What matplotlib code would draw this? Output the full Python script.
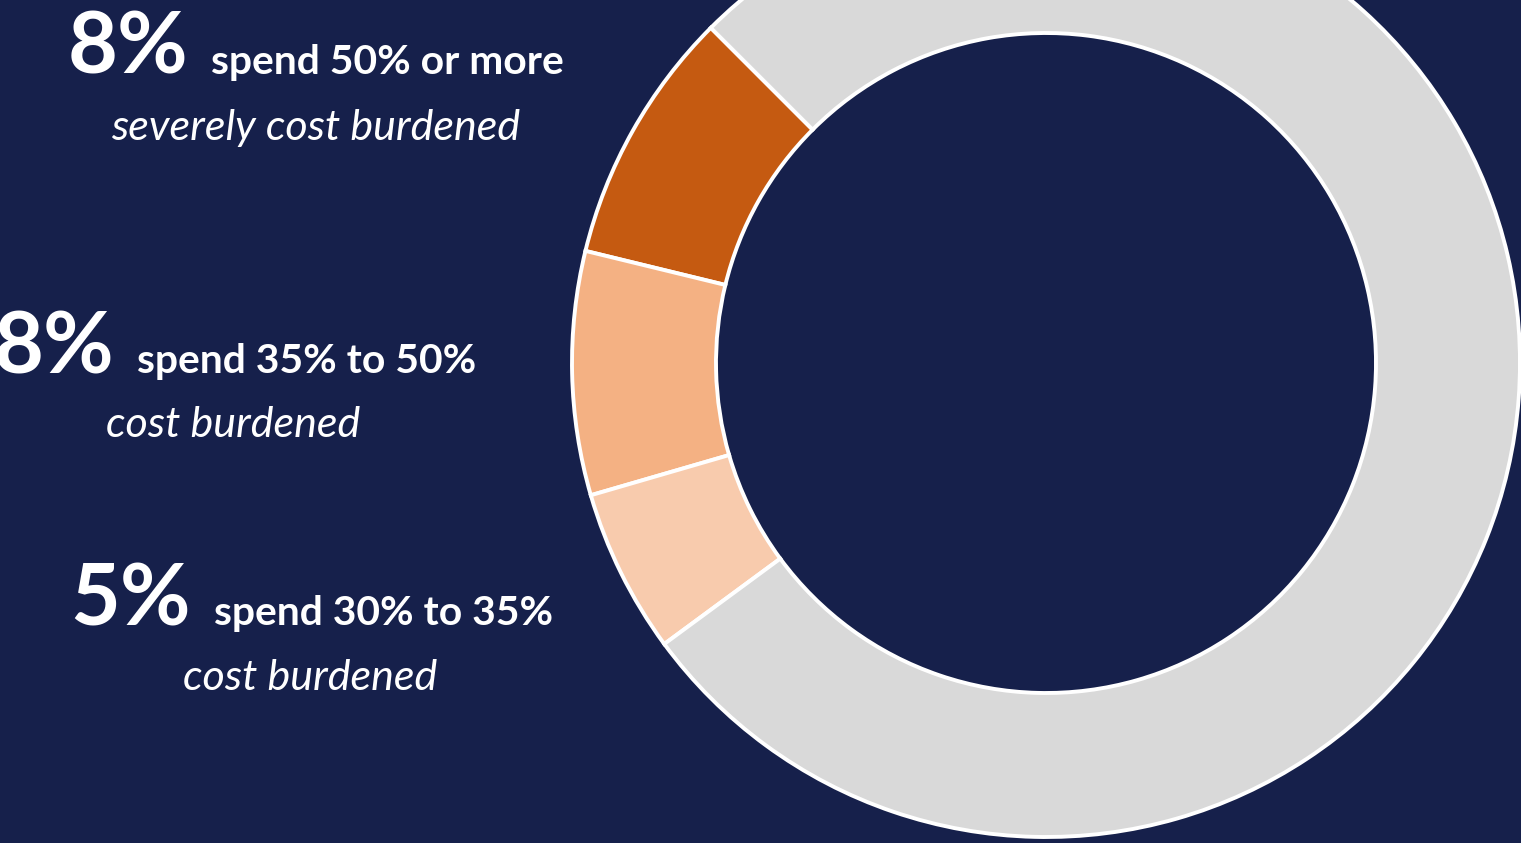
import matplotlib
matplotlib.use("Agg")
import matplotlib.pyplot as plt

W, H = 1521, 843
BG = "#16204b"

# share of households by housing cost burden
categories = ["spend 50% or more", "spend 35% to 50%", "spend 30% to 35%", "not cost burdened"]
shares = [8.7, 8.3, 5.6, 77.4]
colors = ["#c55a11", "#f4b183", "#f8cbad", "#d9d9d9"]

big_labels = ["8%", "8%", "5%"]
sub_labels = ["severely cost burdened", "cost burdened", "cost burdened"]

plt.rcParams["font.family"] = ["Lato", "DejaVu Sans"]

fig = plt.figure(figsize=(W / 100, H / 100), dpi=100, facecolor=BG)
ax = fig.add_axes([0, 0, 1, 1])
ax.set_facecolor(BG)

# donut, drawn in pixel units (y up)
ax.pie(shares, colors=colors, startangle=135, counterclock=True,
       radius=474, center=(1046, H - 363),
       wedgeprops=dict(width=144, edgecolor="white", linewidth=2.8))
ax.set_xlim(0, W)
ax.set_ylim(0, H)
ax.set_aspect("equal")
ax.axis("off")

# text blocks: split x between big number and description, baselines, centre of italic line
split_x = [199, 125, 202]
base1 = [74, 373, 625]
base2 = [140, 437, 690]
centre = [316, 233, 310]

for i in range(3):
    ax.text(split_x[i] - 11, H - base1[i], big_labels[i], ha="right", va="baseline",
            fontsize=62, fontweight="bold", color="white")
    ax.text(split_x[i] + 12, H - base1[i], categories[i], ha="left", va="baseline",
            fontsize=29.4, fontweight="bold", color="white")
    ax.text(centre[i], H - base2[i], sub_labels[i], ha="center", va="baseline",
            fontsize=31, fontstyle="italic", color="white")

fig.savefig("out.png", dpi=100, facecolor=BG)
